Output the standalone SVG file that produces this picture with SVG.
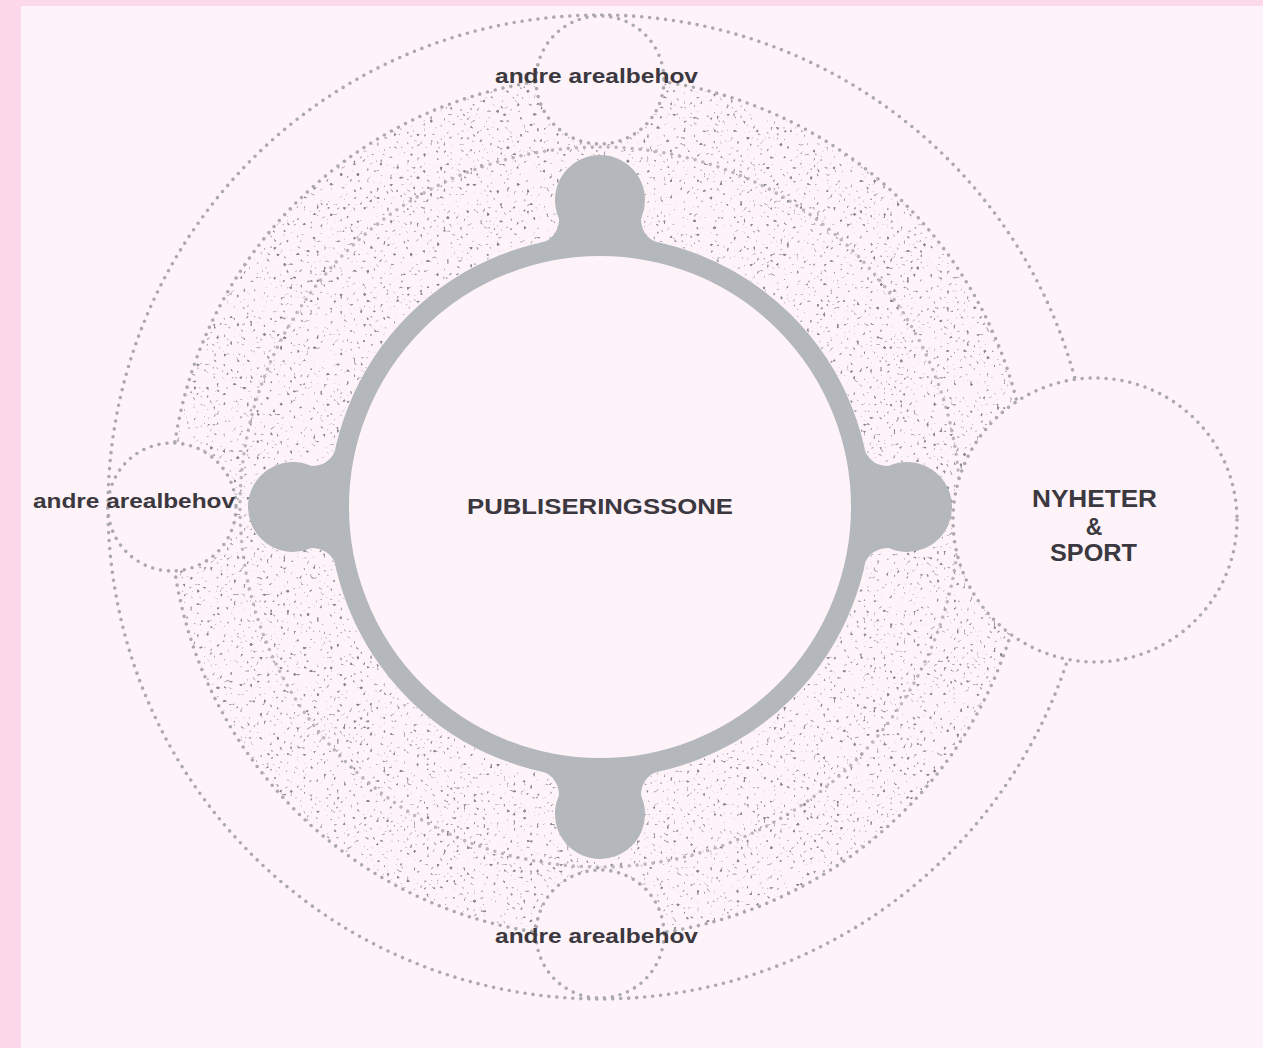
<svg xmlns="http://www.w3.org/2000/svg" width="1263" height="1048" viewBox="0 0 1263 1048">
  <style>
    .dot { fill: none; stroke: #aaa9ad; stroke-width: 3.6; stroke-linecap: round; stroke-dasharray: 0 8; }
    .bubble { fill: #fef3f8; }
    .hub { fill: #b4b7bc; }
    .lbl { font-family: "Liberation Sans", Arial, sans-serif; font-weight: bold; fill: #3b3840; }
  </style>
  <defs>
    <filter id="stipple" filterUnits="userSpaceOnUse" x="160" y="70" width="880" height="880" color-interpolation-filters="sRGB">
      <feTurbulence type="fractalNoise" baseFrequency="0.3" numOctaves="1" seed="7" result="t"/>
      <feColorMatrix in="t" type="matrix" values="0 0 0 0 0.47  0 0 0 0 0.46  0 0 0 0 0.5  1 0 0 0 0" result="a"/>
      <feComponentTransfer in="a" result="d">
        <feFuncA type="linear" slope="10" intercept="-6.4"/>
      </feComponentTransfer>
      <feComposite in="d" in2="SourceGraphic" operator="in"/>
    </filter>
    <path id="neck" d="M559,216 Q560,236 542,243 L658,243 Q640,236 641,216 Z"/>
  </defs>

  <!-- background -->
  <rect x="0" y="0" width="1263" height="1048" fill="#fef3f8"/>
  <rect x="0" y="0" width="1263" height="6" fill="#fdd8ea"/>
  <rect x="0" y="0" width="21" height="1048" fill="#fdd8ea"/>

  <!-- stippled zone -->
  <g id="stipple-zone">
    <circle cx="600" cy="507" r="350.5" fill="none" stroke="#000" stroke-width="157" filter="url(#stipple)" opacity="0.85"/>
  </g>

  <!-- concentric dotted orbits -->
  <g id="connectors">
    <circle class="dot" cx="600" cy="507" r="492"/>
    <circle class="dot" cx="600" cy="507" r="430"/>
    <circle class="dot" cx="600" cy="507" r="360" opacity="0.8"/>
  </g>

  <g id="andre-top">
    <circle class="bubble" cx="600" cy="80" r="64"/>
    <circle class="dot" cx="600" cy="80" r="64"/>
    <text class="lbl" x="495" y="83" font-size="20" textLength="203" lengthAdjust="spacingAndGlyphs">andre arealbehov</text>
  </g>

  <g id="andre-left">
    <circle class="bubble" cx="172" cy="507" r="64"/>
    <circle class="dot" cx="172" cy="507" r="64"/>
    <text class="lbl" x="33" y="508" font-size="20" textLength="202" lengthAdjust="spacingAndGlyphs">andre arealbehov</text>
  </g>

  <g id="andre-bottom">
    <circle class="bubble" cx="600" cy="934" r="64"/>
    <circle class="dot" cx="600" cy="934" r="64"/>
    <text class="lbl" x="495" y="943" font-size="20" textLength="203" lengthAdjust="spacingAndGlyphs">andre arealbehov</text>
  </g>

  <g id="nyheter-sport">
    <circle class="bubble" cx="1095" cy="520" r="142"/>
    <circle class="dot" cx="1095" cy="520" r="142"/>
    <text class="lbl" x="1032" y="507" font-size="23" textLength="125" lengthAdjust="spacingAndGlyphs">NYHETER</text>
    <text class="lbl" x="1094" y="535" font-size="23" text-anchor="middle">&amp;</text>
    <text class="lbl" x="1050" y="561" font-size="23" textLength="87" lengthAdjust="spacingAndGlyphs">SPORT</text>
  </g>

  <g id="publiseringssone">
    <circle cx="600" cy="507" r="261" fill="none" stroke="#b4b7bc" stroke-width="20"/>
    <g class="hub">
      <circle cx="600" cy="200" r="45"/>
      <use href="#neck"/>
      <g transform="rotate(90 600 507)"><circle cx="600" cy="200" r="45"/><use href="#neck"/></g>
      <g transform="rotate(180 600 507)"><circle cx="600" cy="200" r="45"/><use href="#neck"/></g>
      <g transform="rotate(270 600 507)"><circle cx="600" cy="200" r="45"/><use href="#neck"/></g>
    </g>
    <text class="lbl" x="467" y="514" font-size="22" textLength="266" lengthAdjust="spacingAndGlyphs">PUBLISERINGSSONE</text>
  </g>
</svg>
